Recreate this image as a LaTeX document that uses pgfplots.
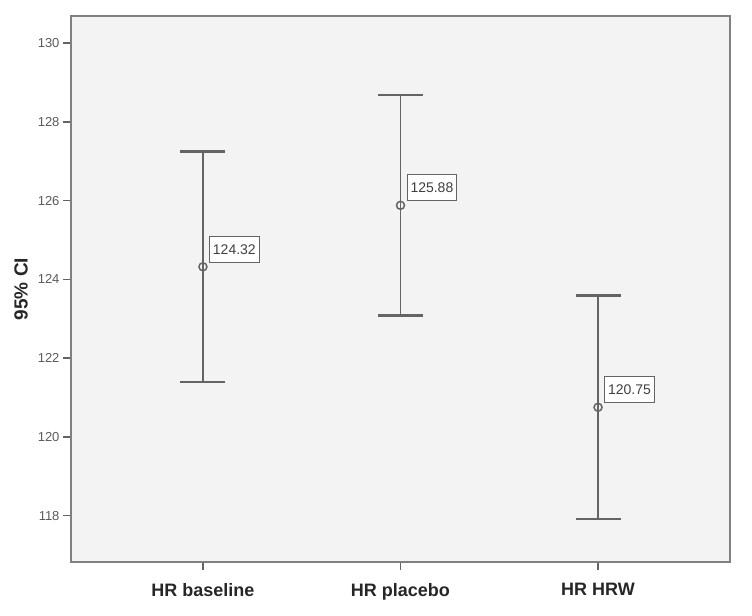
\documentclass[border=0pt]{standalone}
\usepackage{pgfplots}
\pgfplotsset{compat=1.18}
\usepackage{pgfplotstable}
\usepackage{fontspec}
\setmainfont{Liberation Sans}

\definecolor{bggray}{RGB}{243,243,243}
\definecolor{axisgray}{RGB}{128,128,128}
\definecolor{bargray}{RGB}{100,100,100}
\definecolor{ticktext}{RGB}{90,90,90}

% mean and half-width of the 95% CI, categories at 0,1,2
\pgfplotstableread{
x  y       err   lab
0  124.32  2.93  124.32
1  125.88  2.80  125.88
2  120.75  2.84  120.75
}\ci

\begin{document}
\begin{tikzpicture}
\useasboundingbox (-71bp,-54bp) rectangle (681bp,562bp);
\begin{axis}[
    at={(0,0)}, anchor=south west,
    scale only axis,
    width=659bp, height=546bp,
    xmin=-0.668, xmax=2.668,
    ymin=116.82, ymax=130.69,
    xtick=data,
    xticklabels={HR baseline, HR placebo, HR HRW},
    ytick={118,120,...,130},
    xtick pos=bottom, ytick pos=left,
    tick align=outside,
    major tick length=8bp,
    tick style={draw=bargray, line width=1.5bp},
    axis background/.style={fill=bggray},
    axis line style={draw=axisgray, line width=2bp},
    /pgf/number format/assume math mode=true,
    yticklabel style={font=\fontsize{13bp}{15bp}\selectfont, text=ticktext},
    xticklabel style={font=\fontsize{18bp}{20bp}\selectfont\bfseries, text=black!85, yshift=-10bp},
    ylabel={95\% CI},
    every axis y label/.style={at={(axis description cs:0,0.5)}, xshift=-50bp,
        rotate=90, anchor=center,
        font=\fontsize{19bp}{21bp}\selectfont\bfseries, text=black!85},
    clip=false,
]
\addplot[
    only marks,
    mark=o, mark size=4bp,
    mark options={draw=bargray, fill=bggray, line width=1.5bp},
    error bars/.cd,
        y dir=both, y explicit,
        error bar style={draw=bargray, line width=1.7bp},
        error mark options={draw=bargray, line width=2.2bp, mark size=22.5bp, rotate=90},
] table[x=x, y=y, y error=err] {\ci};
\addplot[
    only marks, mark=none,
    point meta=explicit symbolic,
    nodes near coords,
    every node near coord/.append style={
        anchor=south west, xshift=6bp, yshift=4bp,
        fill=white, draw=bargray, line width=1bp,
        inner xsep=3.5bp, inner ysep=8bp,
        text height=10bp, text depth=0bp,
        font=\fontsize{14bp}{16bp}\selectfont, text=black!75},
] table[x=x, y=y, meta=lab] {\ci};
\end{axis}
\end{tikzpicture}
\end{document}
